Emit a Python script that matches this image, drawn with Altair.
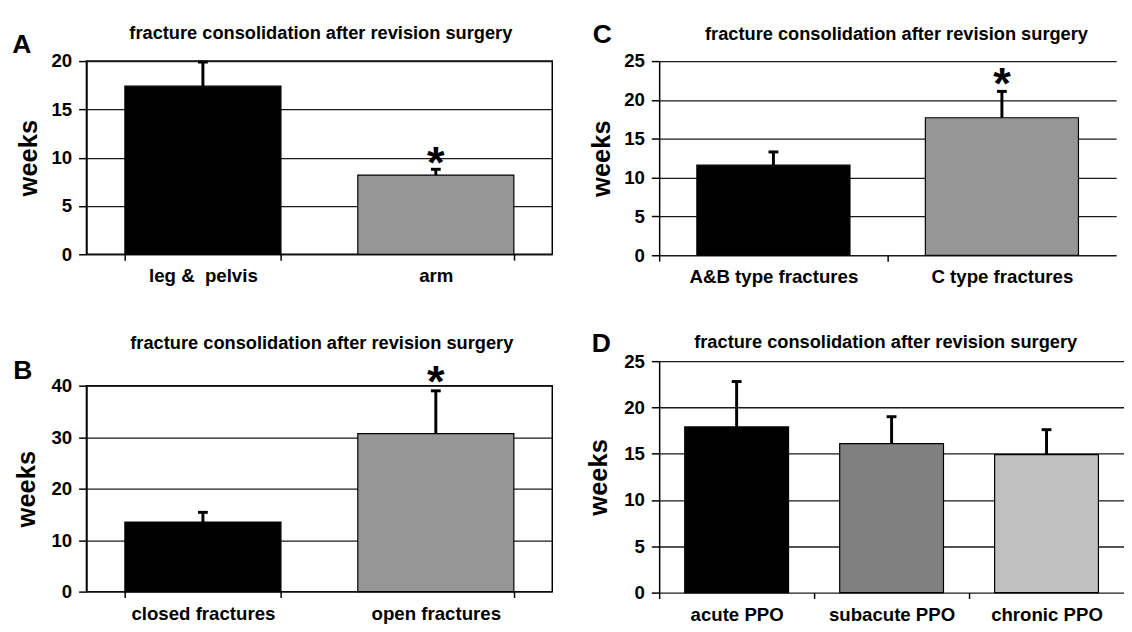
import altair as alt
import pandas as pd

# ---------------- data ----------------
title_text = "fracture consolidation after revision surgery"
y_title = "weeks"

# Panel A
a_cats = ["leg & \u00a0pelvis", "arm"]
a_means = [17.4, 8.2]
a_errs = [2.5, 0.6]
a_stars = [None, 10.6]
a_colors = ["#000000", "#969696"]

# Panel B
b_cats = ["closed fractures", "open fractures"]
b_means = [13.5, 30.7]
b_errs = [1.9, 8.3]
b_stars = [None, 43.0]
b_colors = ["#000000", "#969696"]

# Panel C
c_cats = ["A&B type fractures", "C type fractures"]
c_means = [11.6, 17.7]
c_errs = [1.7, 3.4]
c_stars = [None, 23.5]
c_colors = ["#000000", "#969696"]

# Panel D
d_cats = ["acute PPO", "subacute PPO", "chronic PPO"]
d_means = [17.9, 16.1, 14.9]
d_errs = [4.9, 2.9, 2.7]
d_stars = [None, None, None]
d_colors = ["#000000", "#808080", "#C0C0C0"]

FONT = "Liberation Sans"


def panel(cats, means, errs, stars, colors, ymax, ystep, width, height, step,
          letter, title_x, title_y, letter_x, letter_y, ytitle_x, cut):
    df = pd.DataFrame({
        "cat": cats,
        "mean": means,
        "upper": [m + e for m, e in zip(means, errs)],
        "star": stars,
    })
    n = len(cats)
    xscale = alt.Scale(domain=cats, range=[0, step * n],
                       paddingInner=0.33, paddingOuter=0.165)
    if cut:
        xaxis = alt.Axis(title=None, labelAngle=0, domain=False, grid=False,
                         tickOffset=-step / 2, labelOffset=step / 2)
    else:
        xaxis = alt.Axis(title=None, labelAngle=0, domain=False, grid=False,
                         tickBand="extent")
    x = alt.X("cat:N", scale=xscale, axis=xaxis)
    yscale = alt.Scale(domain=[0, ymax], nice=False, zero=True)
    yaxis = alt.Axis(values=list(range(0, ymax + 1, ystep)), title=y_title,
                     titleX=ytitle_x, titleY=height / 2,
                     titleBaseline="alphabetic", titleAlign="center")

    base = alt.Chart(df)
    bars = base.mark_bar(stroke="black", strokeWidth=1.2).encode(
        x=x,
        y=alt.Y("mean:Q", scale=yscale, axis=yaxis),
        color=alt.Color("cat:N", scale=alt.Scale(domain=cats, range=colors), legend=None),
    )
    stem = base.mark_rule(color="black", strokeWidth=3).encode(
        x=x,
        y=alt.Y("mean:Q", scale=yscale, axis=yaxis),
        y2="upper:Q",
    )
    cap = base.mark_tick(color="black", thickness=3, size=10, opacity=1).encode(
        x=x,
        y=alt.Y("upper:Q", scale=yscale, axis=yaxis),
    )
    star = base.transform_filter("isValid(datum.star)").mark_text(
        text="*", fontSize=46, fontWeight="bold", baseline="alphabetic",
        dy=27, color="black", font=FONT,
    ).encode(
        x=x,
        y=alt.Y("star:Q", scale=yscale, axis=yaxis),
    )
    lab = pd.DataFrame({"letter": [letter], "title": [title_text]})
    ttl = alt.Chart(lab).mark_text(
        fontSize=18.6, fontWeight="bold", baseline="alphabetic", align="center",
        color="black", font=FONT,
    ).encode(text="title:N", x=alt.value(title_x), y=alt.value(title_y))
    let = alt.Chart(lab).mark_text(
        fontSize=27, fontWeight="bold", baseline="alphabetic", align="center",
        color="black", font=FONT,
    ).encode(text="letter:N", x=alt.value(letter_x), y=alt.value(letter_y))

    layer = alt.layer(bars, stem, cap, star, ttl, let)
    if cut:
        layer = layer.properties(width=width, height=height,
                                 view=alt.ViewBackground(stroke=None))
    else:
        layer = layer.properties(width=width, height=height)
    return layer


pA = panel(a_cats, a_means, a_errs, a_stars, a_colors, 20, 5, 475, 197, 237.5,
           "A", 239, -23, -66, -8, -51, False)
pB = panel(b_cats, b_means, b_errs, b_stars, b_colors, 40, 10, 475, 210, 237.5,
           "B", 240, -37, -65, -7, -53, False)
pC = panel(c_cats, c_means, c_errs, c_stars, c_colors, 25, 5, 459, 198, 233,
           "C", 242, -22, -58, -18, -51, True)
pD = panel(d_cats, d_means, d_errs, d_stars, d_colors, 25, 5, 459, 236, 158,
           "D", 231, -13, -59, -9, -54, True)

left_col = alt.vconcat(pA, pB, spacing=134, bounds="flush").resolve_scale(color="independent")
right_col = alt.vconcat(pC, pD, spacing=108, bounds="flush").resolve_scale(color="independent")

chart = alt.hconcat(
    left_col, right_col, spacing=33,
).resolve_scale(
    color="independent",
).properties(
    padding={"left": 3, "top": 8, "right": 0, "bottom": 0},
    background="white",
).configure(
    font=FONT,
).configure_view(
    stroke="black", strokeWidth=1.5,
).configure_axis(
    domainColor="black", domainWidth=1.5,
    tickColor="black", tickWidth=1.5,
    labelFont=FONT, labelFontSize=19, labelFontWeight="bold", labelColor="black",
    titleFont=FONT, titleFontSize=26, titleFontWeight="bold", titleColor="black",
    gridColor="#1a1a1a", gridWidth=1.3, gridOpacity=1,
).configure_axisY(
    tickSize=8, labelPadding=7, grid=True,
).configure_axisX(
    tickSize=6, labelPadding=7, grid=False,
)

chart.save("out.html", embed_options={"renderer": "svg", "actions": False})
